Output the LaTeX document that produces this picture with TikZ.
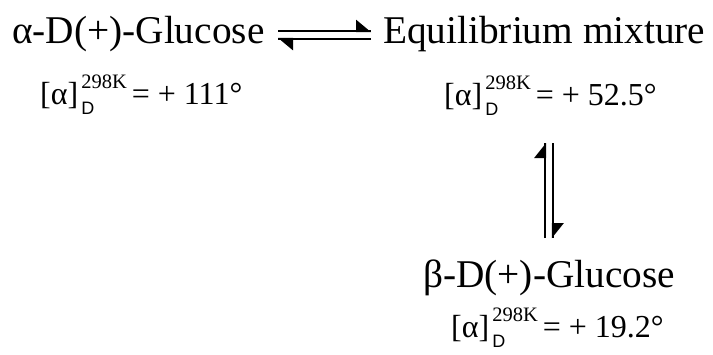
\documentclass[tikz,border=0pt]{standalone}
\usepackage{fontspec}
\setmainfont{Liberation Serif}
\setsansfont{Liberation Sans}
\newcommand{\supsz}{\fontsize{20.5}{21}\selectfont}
\newcommand{\optrot}[1]{{\fontsize{32}{32}\selectfont[α]\hspace{3pt}%
\rlap{\raisebox{16pt}{\supsz 298K}}%
\rlap{\raisebox{-10pt}{\sffamily\fontsize{18}{18}\selectfont D}}%
\phantom{\supsz 298K}\hspace{5pt}= + #1°}}
\begin{document}
\begin{tikzpicture}[x=1pt,y=-1pt,
  title/.style={inner sep=0pt,anchor=base west,font=\fontsize{39.3}{40}\selectfont},
  rot/.style={inner sep=0pt,anchor=base west},
  eqline/.style={line width=2.3pt},
  head/.style={fill=black}]
\useasboundingbox (0,0) rectangle (713,354);
\node[title] (a) at (12,43) {α-D(+)-Glucose};
\node[title] (eq) at (383,43) {Equilibrium mixture};
\node[title] (b) at (423,287) {β-D(+)-Glucose};
\node[rot] (ra) at (40,104) {\optrot{111}};
\node[rot] (req) at (444,105) {\optrot{52.5}};
\node[rot] (rb) at (451,337) {\optrot{19.2}};
% horizontal equilibrium arrows
\coordinate (h1s) at (278,31);
\coordinate (h1e) at (371,31);
\coordinate (h2s) at (278,39);
\coordinate (h2e) at (371,39);
\draw[eqline] (h1s) -- (h1e);
\fill[head] (h1e) ++(0,1.1) -- ++(-15,0) -- ++(0,-12.5) -- cycle;
\draw[eqline] (h2e) -- (h2s);
\fill[head] (h2s) ++(0,-1.1) -- ++(15,0) -- ++(0,12.5) -- cycle;
% vertical equilibrium arrows
\coordinate (v1s) at (545,238);
\coordinate (v1e) at (545,143);
\coordinate (v2s) at (553,143);
\coordinate (v2e) at (553,238);
\draw[eqline] (v1s) -- (v1e);
\fill[head] (v1e) ++(1.1,0) -- ++(0,15) -- ++(-12,0) -- cycle;
\draw[eqline] (v2s) -- (v2e);
\fill[head] (v2e) ++(-1.1,0) -- ++(0,-15) -- ++(12,0) -- cycle;
\end{tikzpicture}
\end{document}
